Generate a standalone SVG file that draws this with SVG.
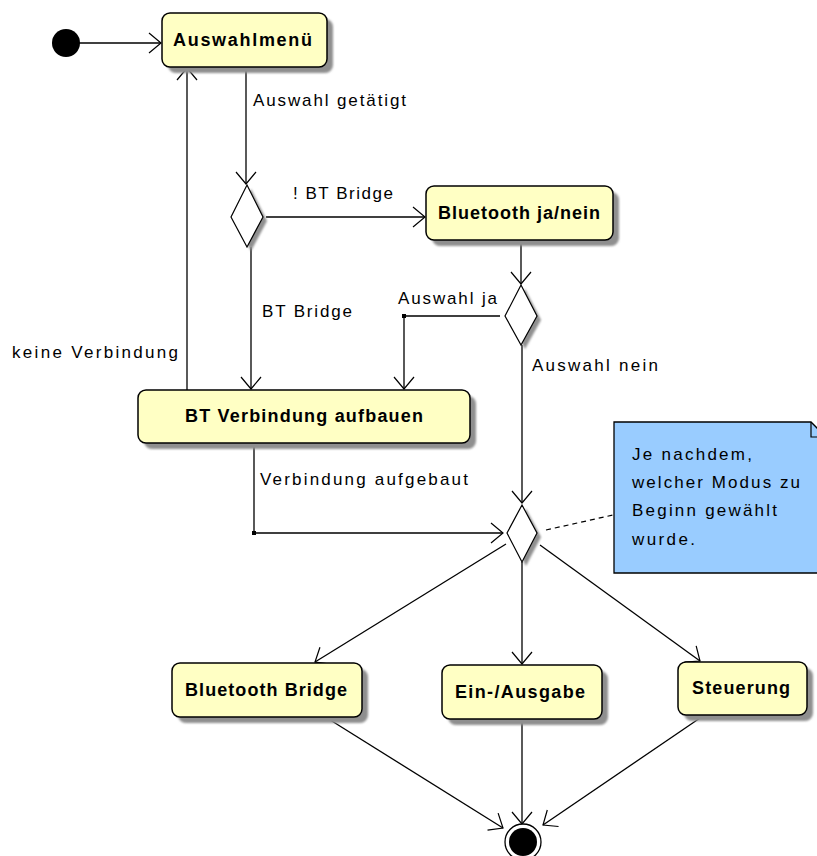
<svg xmlns="http://www.w3.org/2000/svg" width="817" height="856" viewBox="0 0 817 856">
  <style>
    .state { fill: #ffffc4; stroke: #000; stroke-width: 1.5; }
    .shadow { fill: #8f8f8f; filter: url(#soft); }
    .dec { fill: #fff; stroke: #000; stroke-width: 1.2; }
    .edge { fill: none; stroke: #000; stroke-width: 1.3; }
    .arrow { marker-end: url(#open); }
    .title { font-family: "Liberation Sans", Arial, sans-serif; font-weight: bold; font-size: 18px; fill: #000; }
    .lbl { font-family: "Liberation Sans", Arial, sans-serif; font-size: 17px; fill: #000; }
  </style>
  <defs>
    <filter id="soft" x="-10%" y="-10%" width="130%" height="130%">
      <feGaussianBlur stdDeviation="1.2"/>
    </filter>
    <marker id="open" viewBox="-14 -12 16 24" markerWidth="16" markerHeight="24" refX="0" refY="0" orient="auto" markerUnits="userSpaceOnUse">
      <path d="M-12,-10 L0,0 L-12,10" fill="none" stroke="#000" stroke-width="1.2"/>
    </marker>
  </defs>

  <rect width="817" height="856" fill="#fff"/>

  <!-- connectors -->
  <g id="edges">
    <path class="edge arrow" d="M79,43 H161"/>
    <path class="edge arrow" d="M246,67 V184"/>
    <path class="edge arrow" d="M266,217 H425"/>
    <path class="edge arrow" d="M521,240 V284"/>
    <path class="edge arrow" d="M500,316 H404 V389"/>
    <rect x="402" y="314" width="4" height="4" fill="#000"/>
    <path class="edge arrow" d="M251,247 V389"/>
    <path class="edge arrow" d="M187,390 V68"/>
    <path class="edge arrow" d="M254,443 V533 H503"/>
    <rect x="252" y="531" width="4" height="4" fill="#000"/>
    <path class="edge arrow" d="M522,345 V503"/>
    <path class="edge arrow" d="M506,544 L315,662"/>
    <path class="edge arrow" d="M522,562 V664"/>
    <path class="edge arrow" d="M540,545 L700,661"/>
    <path class="edge arrow" d="M327,718 L503,828"/>
    <path class="edge arrow" d="M522,719 V824"/>
    <path class="edge arrow" d="M703,716 L543,825"/>
    <path d="M546,530 L613,515" fill="none" stroke="#000" stroke-width="1.2" stroke-dasharray="5,4"/>
    <text class="lbl" x="253" y="106" textLength="153" lengthAdjust="spacing">Auswahl getätigt</text>
    <text class="lbl" x="293" y="199" textLength="100" lengthAdjust="spacing">! BT Bridge</text>
    <text class="lbl" x="262" y="317" textLength="90" lengthAdjust="spacing">BT Bridge</text>
    <text class="lbl" x="398" y="304" textLength="99" lengthAdjust="spacing">Auswahl ja</text>
    <text class="lbl" x="532" y="371" textLength="126" lengthAdjust="spacing">Auswahl nein</text>
    <text class="lbl" x="12" y="358" textLength="166" lengthAdjust="spacing">keine Verbindung</text>
    <text class="lbl" x="260" y="485" textLength="208" lengthAdjust="spacing">Verbindung aufgebaut</text>
  </g>

  <!-- start -->
  <g id="start">
    <circle cx="66" cy="43" r="14" fill="#000"/>
  </g>

  <g id="auswahlmenue">
    <rect class="shadow" x="168" y="19" width="165" height="54" rx="8"/>
    <rect class="state" x="162" y="13" width="165" height="54" rx="8"/>
    <text class="title" x="173" y="46" textLength="139" lengthAdjust="spacing">Auswahlmenü</text>
  </g>

  <g id="decision1">
    <polygon points="251,189 267,221 251,251 235,221" fill="#8f8f8f" filter="url(#soft)"/>
    <polygon class="dec" points="247,185 263,217 247,247 231,217"/>
  </g>

  <g id="bluetooth-ja-nein">
    <rect class="shadow" x="432" y="192" width="187" height="54" rx="8"/>
    <rect class="state" x="426" y="186" width="187" height="54" rx="8"/>
    <text class="title" x="438" y="219" textLength="162" lengthAdjust="spacing">Bluetooth ja/nein</text>
  </g>

  <g id="decision2">
    <polygon points="525,289 541,320 525,349 509,320" fill="#8f8f8f" filter="url(#soft)"/>
    <polygon class="dec" points="521,285 537,316 521,345 505,316"/>
  </g>

  <g id="bt-verbindung">
    <rect class="shadow" x="144" y="396" width="332" height="53" rx="8"/>
    <rect class="state" x="138" y="390" width="332" height="53" rx="8"/>
    <text class="title" x="185" y="422" textLength="238" lengthAdjust="spacing">BT Verbindung aufbauen</text>
  </g>

  <g id="decision3">
    <polygon points="526,509 541,537 526,566 511,537" fill="#8f8f8f" filter="url(#soft)"/>
    <polygon class="dec" points="522,505 537,533 522,562 507,533"/>
  </g>

  <g id="note">
    <polygon points="614,422 811,422 826,437 826,573 614,573" fill="#99ccff" stroke="#000" stroke-width="1.3"/>
    <path d="M811,422 V437 H826" fill="none" stroke="#000" stroke-width="1.2"/>
    <text class="lbl" x="632" y="460" textLength="120" lengthAdjust="spacing">Je nachdem,</text>
    <text class="lbl" x="632" y="488" textLength="168" lengthAdjust="spacing">welcher Modus zu</text>
    <text class="lbl" x="632" y="516" textLength="145" lengthAdjust="spacing">Beginn gewählt</text>
    <text class="lbl" x="632" y="545" textLength="63" lengthAdjust="spacing">wurde.</text>
  </g>

  <g id="bluetooth-bridge">
    <rect class="shadow" x="178" y="669" width="190" height="54" rx="8"/>
    <rect class="state" x="172" y="663" width="190" height="54" rx="8"/>
    <text class="title" x="185" y="696" textLength="162" lengthAdjust="spacing">Bluetooth Bridge</text>
  </g>

  <g id="ein-ausgabe">
    <rect class="shadow" x="448" y="671" width="160" height="54" rx="8"/>
    <rect class="state" x="442" y="665" width="160" height="54" rx="8"/>
    <text class="title" x="455" y="698" textLength="130" lengthAdjust="spacing">Ein-/Ausgabe</text>
  </g>

  <g id="steuerung">
    <rect class="shadow" x="684" y="668" width="129" height="53" rx="8"/>
    <rect class="state" x="678" y="662" width="129" height="53" rx="8"/>
    <text class="title" x="692" y="694" textLength="98" lengthAdjust="spacing">Steuerung</text>
  </g>

  <!-- final -->
  <g id="end">
    <circle cx="523" cy="842" r="18" fill="#fff" stroke="#000" stroke-width="1.3"/>
    <circle cx="523" cy="842" r="14" fill="#000"/>
  </g>
</svg>
